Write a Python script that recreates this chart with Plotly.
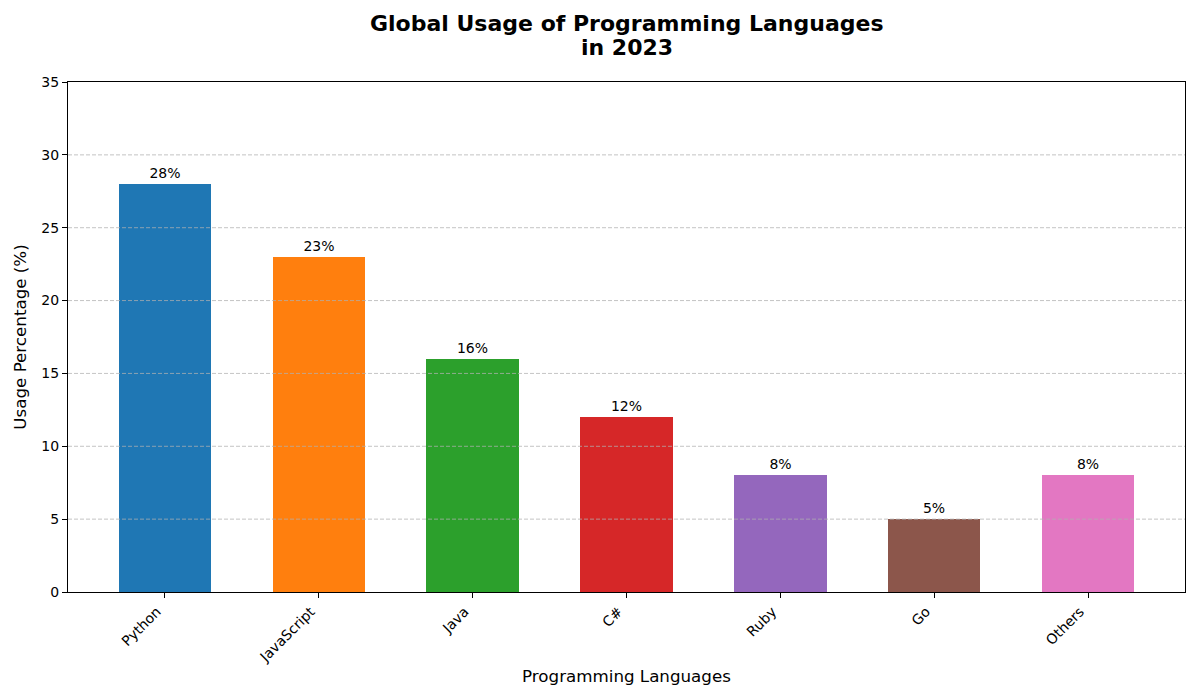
import plotly.graph_objects as go

languages = ["Python", "JavaScript", "Java", "C#", "Ruby", "Go", "Others"]
usage = [28, 23, 16, 12, 8, 5, 8]
colors = ["#1f77b4", "#ff7f0e", "#2ca02c", "#d62728", "#9467bd", "#8c564b", "#e377c2"]
y_ticks = [0, 5, 10, 15, 20, 25, 30, 35]
grid_values = [5, 10, 15, 20, 25, 30]
title_lines = ["Global Usage of Programming Languages", "in 2023"]

FONT = "DejaVu Sans"

# page has an 8px body margin; figure sized so the plot area lands where the reference has it
W, H = 1192, 692
ML, MR, MT, MB = 57, 15, 74, 108
PH = H - MT - MB

fig = go.Figure()
fig.add_trace(go.Bar(
    x=languages,
    y=usage,
    width=0.6,
    marker=dict(color=colors, line=dict(width=0)),
    text=[f"{v}%" for v in usage],
    textposition="outside",
    textfont=dict(family=FONT, size=14, color="black"),
    cliponaxis=False,
    hoverinfo="x+y",
))

shapes = []
for g in grid_values:
    shapes.append(dict(
        type="line", xref="paper", yref="y", x0=0, x1=1, y0=g, y1=g,
        line=dict(color="rgba(176,176,176,0.75)", width=1, dash="4px,2px"),
        layer="above",
    ))

annotations = []
for line, fy in zip(title_lines, [16, 39]):
    annotations.append(dict(
        text=f"<b>{line}</b>", xref="paper", yref="paper",
        x=0.5, y=(H - MB - fy) / PH, xanchor="center", yanchor="middle",
        showarrow=False, font=dict(family=FONT, size=22, color="black"),
    ))

fig.update_layout(
    width=W, height=H,
    paper_bgcolor="white", plot_bgcolor="white",
    margin=dict(l=ML, r=MR, t=MT, b=MB),
    font=dict(family=FONT, size=14, color="black"),
    showlegend=False,
    bargap=0,
    shapes=shapes,
    annotations=annotations,
    xaxis=dict(
        type="category",
        range=[-0.63, 6.63],
        title=dict(text="Programming Languages", font=dict(family=FONT, size=16.7), standoff=6),
        tickangle=-45,
        ticklabelshift=-8,
        ticks="outside", ticklen=5, tickwidth=1, tickcolor="black",
        showline=True, linecolor="black", linewidth=1, mirror=True,
        showgrid=False, zeroline=False,
        tickfont=dict(family=FONT, size=14),
    ),
    yaxis=dict(
        range=[0, 35],
        tickvals=y_ticks,
        title=dict(text="Usage Percentage (%)", font=dict(family=FONT, size=16.7), standoff=10),
        ticks="outside", ticklen=5, tickwidth=1, tickcolor="black",
        showline=True, linecolor="black", linewidth=1, mirror=True,
        showgrid=False, zeroline=False,
        tickfont=dict(family=FONT, size=14),
    ),
)

fig.write_html("out.html")
